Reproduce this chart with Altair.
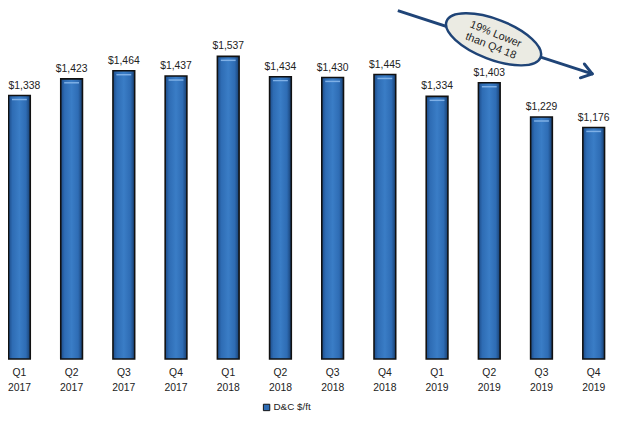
import altair as alt
import pandas as pd

quarters = ["Q1", "Q2", "Q3", "Q4"] * 3
years = ["2017"] * 4 + ["2018"] * 4 + ["2019"] * 4
values = [1338, 1423, 1464, 1437, 1537, 1434, 1430, 1445, 1334, 1403, 1229, 1176]
series_name = "D&C $/ft"
note_text = ["19% Lower", "than Q4 18"]

df = pd.DataFrame({
    "period": [f"{q} {y}" for q, y in zip(quarters, years)],
    "value": values,
    "series": [series_name] * len(values),
})
order = list(df["period"])

FONT = "Liberation Sans, Arial"
L = 16
r0, r1 = -6.9, 627.9

x = alt.X("period:N", sort=order, title=None,
          scale=alt.Scale(range=[r0 - 8 - L, r1 - 8 - L], paddingInner=0.585, paddingOuter=0.2925),
          axis=alt.Axis(labelExpr="split(datum.label, ' ')", labelAngle=0, domain=False,
                        ticks=False, labelFontSize=10.5, labelLineHeight=15, labelPadding=9,
                        labelFont=FONT, labelColor="#222"))
y = alt.Y("value:Q", scale=alt.Scale(domain=[0, 1769], nice=False), axis=None)

base = alt.Chart(df)

legend_bars = base.mark_bar(width=22).encode(
    x=x, y=y,
    color=alt.Color("series:N", scale=alt.Scale(range=["#2e6cb4"]), title=None,
                    legend=alt.Legend(orient="none", legendX=257 - L, legendY=397,
                                      symbolType="square", symbolSize=42,
                                      symbolStrokeColor="#111", symbolStrokeWidth=1,
                                      labelFont=FONT, labelFontSize=10, labelColor="#222",
                                      labelOffset=2)),
)

grad = alt.Gradient(
    gradient="linear", x1=0, x2=1, y1=0, y2=0,
    stops=[
        alt.GradientStop(color="#1c4a86", offset=0),
        alt.GradientStop(color="#2e6cb4", offset=0.18),
        alt.GradientStop(color="#3a7dc6", offset=0.5),
        alt.GradientStop(color="#2e6cb4", offset=0.8),
        alt.GradientStop(color="#173e70", offset=1),
    ],
)
bars = base.mark_bar(width=22, fill=grad, stroke="#111", strokeWidth=1.6).encode(x=x, y=y)
caps = base.mark_tick(size=15, thickness=1.5, color="#7fb0e6", yOffset=4, opacity=1).encode(x=x, y=y)

first = order[0]
labels = base.transform_filter(alt.datum.period != first).mark_text(
    baseline="bottom", dy=-5, font=FONT, fontSize=10.5, color="#222").encode(
    x=x, y=y, text=alt.Text("value:Q", format="$,.0f"))
label_first = base.transform_filter(alt.datum.period == first).mark_text(
    baseline="bottom", dy=-5, dx=5, font=FONT, fontSize=10.5, color="#222").encode(
    x=x, y=y, text=alt.Text("value:Q", format="$,.0f"))

navy = "#1f4477"
one = pd.DataFrame({"a": [0]})
arrow = alt.Chart(one).mark_rule(color=navy, strokeWidth=3).encode(
    x=alt.value(395 - L), y=alt.value(0), x2=alt.value(592 - L), y2=alt.value(64))
head1 = alt.Chart(one).mark_rule(color=navy, strokeWidth=3, strokeCap="round").encode(
    x=alt.value(592 - L), y=alt.value(64), x2=alt.value(580 - L), y2=alt.value(68))
head2 = alt.Chart(one).mark_rule(color=navy, strokeWidth=3, strokeCap="round").encode(
    x=alt.value(592 - L), y=alt.value(64), x2=alt.value(584 - L), y2=alt.value(54))

ellipse = alt.Chart(one).mark_point(
    shape="M -1 0 A 1 0.4 0 1 1 1 0 A 1 0.4 0 1 1 -1 0 Z",
    filled=True, fill="#ebebe3", stroke=navy, strokeWidth=2.5, opacity=1,
    size=10400, angle=21,
).encode(x=alt.value(492 - L), y=alt.value(29))

note = alt.Chart(pd.DataFrame({"t": [note_text]})).mark_text(
    font=FONT, fontSize=11, color="#222", angle=22, lineHeight=13, baseline="middle"
).encode(x=alt.value(494 - L), y=alt.value(24), text="t")

chart = alt.layer(legend_bars, bars, caps, labels, label_first, arrow, head1, head2, ellipse, note).properties(
    width=612 - L, height=353,
    padding={"left": L, "top": 0, "right": 0, "bottom": 60},
    autosize=alt.AutoSizeParams(type="none"),
    background="white",
).configure_view(stroke=None)

chart.save("out.html", embed_options={"renderer": "svg", "actions": False})
